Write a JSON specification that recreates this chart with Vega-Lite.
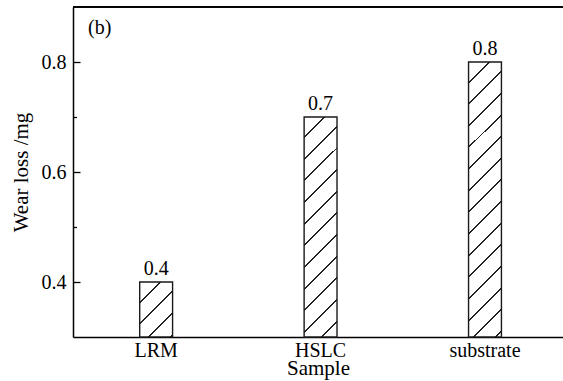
{
  "$schema": "https://vega.github.io/schema/vega-lite/v6.json",
  "width": 490,
  "height": 330,
  "autosize": {"type": "none"},
  "padding": {"left": 73, "top": 7, "right": 0, "bottom": 44},
  "background": "white",
  "config": {
    "view": {"stroke": null},
    "font": "Liberation Serif",
    "axis": {
      "labelFont": "Liberation Serif",
      "titleFont": "Liberation Serif",
      "labelColor": "black",
      "titleColor": "black",
      "titleFontWeight": "normal",
      "domainColor": "black",
      "domainWidth": 1.5,
      "tickColor": "black",
      "tickWidth": 1.3,
      "grid": false
    }
  },
  "title": {
    "text": "(b)",
    "orient": "none",
    "anchor": "start",
    "frame": "group",
    "dy": 27,
    "dx": 15,
    "font": "Liberation Serif",
    "fontSize": 20,
    "fontWeight": "normal",
    "baseline": "alphabetic",
    "color": "black"
  },
  "data": {
    "values": [
      {"sample": "LRM", "value": 0.4},
      {"sample": "HSLC", "value": 0.7},
      {"sample": "substrate", "value": 0.8}
    ]
  },
  "layer": [
    {
      "mark": {"type": "bar", "stroke": "#1a1a1a", "strokeWidth": 1.4},
      "encoding": {
        "x": {
          "field": "sample",
          "type": "nominal",
          "sort": null,
          "scale": {"paddingInner": 0.8, "paddingOuter": 0.39, "align": 0.52},
          "axis": {
            "title": "Sample",
            "labelAngle": 0,
            "labelFontSize": 20,
            "titleFontSize": 21,
            "ticks": false,
            "labelPadding": 3,
            "titleBaseline": "alphabetic",
            "titlePadding": 14
          }
        },
        "y": {
          "field": "value",
          "type": "quantitative",
          "scale": {"domain": [0.3, 0.9], "zero": false, "nice": false},
          "axis": {
            "title": "Wear loss /mg",
            "values": [0.4, 0.5, 0.6, 0.7, 0.8],
            "labelExpr": "datum.value == 0.5 || datum.value == 0.7 ? '' : format(datum.value, '.1f')",
            "labelFontSize": 20,
            "titleFontSize": 21,
            "tickSize": {"condition": {"test": "datum.value == 0.5 || datum.value == 0.7", "value": -3.5}, "value": -7},
            "labelPadding": 14,
            "titlePadding": 10
          }
        },
        "y2": {"datum": 0.3},
        "fill": {
          "condition": [
            {
              "test": "datum.sample === 'LRM'",
              "value": {
                "gradient": "linear", "x1": 0, "y1": 0, "x2": 0.7023, "y2": 1.1776,
                "stops": [
                  {"offset": 0, "color": "white"},
                  {"offset": 0.2223, "color": "white"}, {"offset": 0.2223, "color": "#222"}, {"offset": 0.2448, "color": "#222"}, {"offset": 0.2448, "color": "white"},
                  {"offset": 0.4688, "color": "white"}, {"offset": 0.4688, "color": "#222"}, {"offset": 0.4913, "color": "#222"}, {"offset": 0.4913, "color": "white"},
                  {"offset": 0.7152, "color": "white"}, {"offset": 0.7152, "color": "#222"}, {"offset": 0.7378, "color": "#222"}, {"offset": 0.7378, "color": "white"},
                  {"offset": 0.9617, "color": "white"}, {"offset": 0.9617, "color": "#222"}, {"offset": 0.9842, "color": "#222"}, {"offset": 0.9842, "color": "white"},
                  {"offset": 1, "color": "white"}
                ]
              }
            },
            {
              "test": "datum.sample === 'HSLC'",
              "value": {
                "gradient": "linear", "x1": 0, "y1": 0, "x2": 0.1676, "y2": 1.1242,
                "stops": [
                  {"offset": 0, "color": "white"},
                  {"offset": 0.0772, "color": "white"}, {"offset": 0.0772, "color": "#222"}, {"offset": 0.0850, "color": "#222"}, {"offset": 0.0850, "color": "white"},
                  {"offset": 0.1628, "color": "white"}, {"offset": 0.1628, "color": "#222"}, {"offset": 0.1706, "color": "#222"}, {"offset": 0.1706, "color": "white"},
                  {"offset": 0.2484, "color": "white"}, {"offset": 0.2484, "color": "#222"}, {"offset": 0.2562, "color": "#222"}, {"offset": 0.2562, "color": "white"},
                  {"offset": 0.3340, "color": "white"}, {"offset": 0.3340, "color": "#222"}, {"offset": 0.3418, "color": "#222"}, {"offset": 0.3418, "color": "white"},
                  {"offset": 0.4196, "color": "white"}, {"offset": 0.4196, "color": "#222"}, {"offset": 0.4274, "color": "#222"}, {"offset": 0.4274, "color": "white"},
                  {"offset": 0.5051, "color": "white"}, {"offset": 0.5051, "color": "#222"}, {"offset": 0.5130, "color": "#222"}, {"offset": 0.5130, "color": "white"},
                  {"offset": 0.5907, "color": "white"}, {"offset": 0.5907, "color": "#222"}, {"offset": 0.5986, "color": "#222"}, {"offset": 0.5986, "color": "white"},
                  {"offset": 0.6763, "color": "white"}, {"offset": 0.6763, "color": "#222"}, {"offset": 0.6842, "color": "#222"}, {"offset": 0.6842, "color": "white"},
                  {"offset": 0.7619, "color": "white"}, {"offset": 0.7619, "color": "#222"}, {"offset": 0.7697, "color": "#222"}, {"offset": 0.7697, "color": "white"},
                  {"offset": 0.8475, "color": "white"}, {"offset": 0.8475, "color": "#222"}, {"offset": 0.8553, "color": "#222"}, {"offset": 0.8553, "color": "white"},
                  {"offset": 0.9331, "color": "white"}, {"offset": 0.9331, "color": "#222"}, {"offset": 0.9409, "color": "#222"}, {"offset": 0.9409, "color": "white"},
                  {"offset": 1, "color": "white"}
                ]
              }
            }
          ],
          "value": {
            "gradient": "linear", "x1": 0, "y1": 0, "x2": 0.1316, "y2": 1.1036,
            "stops": [
              {"offset": 0, "color": "white"},
              {"offset": 0.0634, "color": "white"}, {"offset": 0.0634, "color": "#222"}, {"offset": 0.0698, "color": "#222"}, {"offset": 0.0698, "color": "white"},
              {"offset": 0.1337, "color": "white"}, {"offset": 0.1337, "color": "#222"}, {"offset": 0.1401, "color": "#222"}, {"offset": 0.1401, "color": "white"},
              {"offset": 0.2040, "color": "white"}, {"offset": 0.2040, "color": "#222"}, {"offset": 0.2104, "color": "#222"}, {"offset": 0.2104, "color": "white"},
              {"offset": 0.2743, "color": "white"}, {"offset": 0.2743, "color": "#222"}, {"offset": 0.2807, "color": "#222"}, {"offset": 0.2807, "color": "white"},
              {"offset": 0.3446, "color": "white"}, {"offset": 0.3446, "color": "#222"}, {"offset": 0.3510, "color": "#222"}, {"offset": 0.3510, "color": "white"},
              {"offset": 0.4149, "color": "white"}, {"offset": 0.4149, "color": "#222"}, {"offset": 0.4213, "color": "#222"}, {"offset": 0.4213, "color": "white"},
              {"offset": 0.4852, "color": "white"}, {"offset": 0.4852, "color": "#222"}, {"offset": 0.4916, "color": "#222"}, {"offset": 0.4916, "color": "white"},
              {"offset": 0.5555, "color": "white"}, {"offset": 0.5555, "color": "#222"}, {"offset": 0.5619, "color": "#222"}, {"offset": 0.5619, "color": "white"},
              {"offset": 0.6258, "color": "white"}, {"offset": 0.6258, "color": "#222"}, {"offset": 0.6322, "color": "#222"}, {"offset": 0.6322, "color": "white"},
              {"offset": 0.6961, "color": "white"}, {"offset": 0.6961, "color": "#222"}, {"offset": 0.7025, "color": "#222"}, {"offset": 0.7025, "color": "white"},
              {"offset": 0.7664, "color": "white"}, {"offset": 0.7664, "color": "#222"}, {"offset": 0.7728, "color": "#222"}, {"offset": 0.7728, "color": "white"},
              {"offset": 0.8367, "color": "white"}, {"offset": 0.8367, "color": "#222"}, {"offset": 0.8431, "color": "#222"}, {"offset": 0.8431, "color": "white"},
              {"offset": 0.9070, "color": "white"}, {"offset": 0.9070, "color": "#222"}, {"offset": 0.9134, "color": "#222"}, {"offset": 0.9134, "color": "white"},
              {"offset": 0.9773, "color": "white"}, {"offset": 0.9773, "color": "#222"}, {"offset": 0.9837, "color": "#222"}, {"offset": 0.9837, "color": "white"},
              {"offset": 1, "color": "white"}
            ]
          }
        }
      }
    },
    {
      "mark": {"type": "text", "baseline": "alphabetic", "dy": -7, "fontSize": 20, "font": "Liberation Serif", "color": "black"},
      "encoding": {
        "x": {"field": "sample", "type": "nominal", "sort": null},
        "y": {"field": "value", "type": "quantitative"},
        "text": {"field": "value", "type": "quantitative", "format": ".1f"}
      }
    },
    {
      "mark": {"type": "rule", "color": "black", "strokeWidth": 1.5},
      "encoding": {"y": {"datum": 0.9}}
    }
  ]
}
